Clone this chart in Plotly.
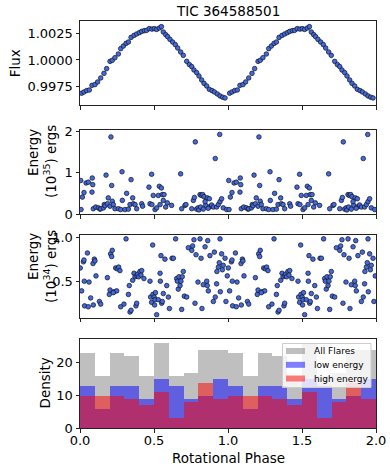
import numpy as np
import plotly.graph_objects as go

W, H = 390, 468
FONT = "DejaVu Sans"

# ---------------- data (one rotation; plotted again at phase + 1) ----------------
lc_phase = [0.011, 0.027, 0.045, 0.063, 0.081, 0.101, 0.119, 0.140, 0.162, 0.180,
            0.203, 0.218, 0.236, 0.259, 0.275, 0.293, 0.311, 0.327, 0.345, 0.365,
            0.383, 0.401, 0.417, 0.435, 0.450, 0.468, 0.486, 0.502, 0.518, 0.536,
            0.550, 0.563, 0.579, 0.592, 0.608, 0.626, 0.644, 0.660, 0.680, 0.698,
            0.721, 0.739, 0.755, 0.770, 0.788, 0.804, 0.822, 0.838, 0.856, 0.874,
            0.892, 0.908, 0.928, 0.946, 0.964, 0.980]
lc_flux = [0.99684, 0.99696, 0.99709, 0.99715, 0.99759, 0.99766, 0.99791, 0.99829, 0.99873, 0.99918,
           0.99987, 0.99997, 1.00022, 1.00057, 1.00108, 1.00133, 1.00158, 1.00171, 1.00215, 1.00234,
           1.00247, 1.00260, 1.00272, 1.00279, 1.00282, 1.00298, 1.00294, 1.00298, 1.00291, 1.00304,
           1.00317, 1.00266, 1.00241, 1.00222, 1.00196, 1.00171, 1.00146, 1.00114, 1.00076, 1.00044,
           0.99987, 0.99956, 0.99937, 0.99905, 0.99880, 0.99848, 0.99810, 0.99778, 0.99753, 0.99721,
           0.99709, 0.99696, 0.99677, 0.99658, 0.99646, 0.99639]

# high-energy flares (units of 1e35 erg)
hi_phase = [0.007, 0.005, 0.016, 0.027, 0.041, 0.056, 0.083, 0.086, 0.081, 0.090,
            0.106, 0.124, 0.135, 0.140, 0.158, 0.164, 0.169, 0.176, 0.185, 0.191,
            0.203, 0.209, 0.214, 0.218, 0.225, 0.236, 0.259, 0.275, 0.286, 0.284,
            0.304, 0.315, 0.327, 0.338, 0.345, 0.356, 0.360, 0.372, 0.383,
            0.417, 0.423, 0.466, 0.473, 0.484, 0.486, 0.495,
            0.507, 0.518, 0.529, 0.536, 0.541, 0.550, 0.556, 0.563, 0.568, 0.579, 0.590,
            0.619, 0.680, 0.687,
            0.709, 0.716, 0.755, 0.766, 0.773, 0.779, 0.788, 0.798,
            0.811, 0.820, 0.829, 0.838, 0.849, 0.860, 0.874, 0.878, 0.803, 0.815, 0.833, 0.845, 0.866, 0.889,
            0.901, 0.914, 0.923, 0.935, 0.944, 0.946, 0.957, 0.968, 0.991]
hi_energy = [0.11, 0.81, 0.41, 0.52, 0.75, 0.77, 0.87, 0.71, 0.53, 0.13,
             0.17, 0.15, 0.12, 0.13, 0.15, 0.23, 0.20, 0.94, 0.25, 0.39,
             0.19, 1.86, 0.69, 0.31, 0.23, 0.13, 0.13, 0.11, 0.33, 1.02,
             0.11, 0.50, 0.12, 0.23, 0.83, 0.39, 0.25, 0.23, 0.13,
             0.25, 0.19, 0.65, 0.25, 0.96, 0.23, 0.45,
             0.11, 0.15, 0.45, 0.67, 0.23, 0.63, 0.47, 0.33, 0.47, 0.17, 0.27,
             0.21, 0.97, 0.13,
             0.21, 0.23, 0.13, 0.33, 0.40, 1.74, 0.12, 0.15,
             0.47, 0.45, 0.47, 0.42, 0.21, 0.39, 0.37, 0.18, 0.10, 0.17, 0.12, 0.30, 0.14, 0.22,
             0.17, 1.34, 0.17, 0.23, 1.92, 0.30, 0.37, 0.15, 0.11]

# low-energy flares (units of 1e34 erg)
lo_phase = [0.002, 0.011, 0.023, 0.027, 0.029, 0.031, 0.050, 0.056, 0.061, 0.072, 0.090, 0.088, 0.097,
            0.101, 0.108, 0.131, 0.140, 0.185, 0.198,
            0.203, 0.207, 0.214, 0.218, 0.230, 0.241, 0.248, 0.252, 0.261, 0.270, 0.275, 0.297, 0.225,
            0.311, 0.327, 0.333, 0.338, 0.345, 0.356, 0.365, 0.372, 0.378, 0.383, 0.385, 0.390, 0.396,
            0.405, 0.412, 0.417, 0.432, 0.473, 0.477, 0.484, 0.491, 0.493,
            0.501, 0.504, 0.507, 0.510, 0.518, 0.529, 0.541, 0.543, 0.547, 0.552, 0.556, 0.563, 0.574, 0.586, 0.597,
            0.604, 0.622, 0.631, 0.646, 0.653, 0.658, 0.664, 0.669, 0.676, 0.682, 0.687, 0.691, 0.698,
            0.705, 0.721, 0.732, 0.755, 0.761, 0.770, 0.777, 0.784, 0.797,
            0.811, 0.818, 0.824, 0.833, 0.845, 0.856, 0.860, 0.863, 0.867, 0.878,
            0.901, 0.908, 0.914, 0.923, 0.925, 0.935, 0.941, 0.946, 0.948, 0.957, 0.962, 0.968, 0.980, 0.986, 0.995]
lo_energy = [0.65, 0.39, 0.72, 0.74, 0.50, 0.22, 0.82, 0.21, 0.49, 0.31, 0.23, 0.70, 0.75,
             0.73, 0.56, 0.27, 0.24, 0.54, 0.35,
             0.40, 0.81, 0.78, 0.85, 0.38, 0.65, 0.39, 0.64, 0.66, 0.62, 0.21, 0.24, 0.37,
             0.98, 0.35, 0.45, 0.15, 0.17, 0.51, 0.59, 0.55, 0.22, 0.25, 0.56, 0.58, 0.55,
             0.61, 0.57, 0.62, 0.53, 0.50, 0.32, 0.26, 0.91, 0.35,
             0.32, 0.23, 0.29, 0.37, 0.12, 0.29, 0.59, 0.50, 0.79, 0.25, 0.27, 0.36, 0.75, 0.45, 0.32,
             0.19, 0.76, 0.76, 0.98, 0.53, 0.50, 0.41, 0.55, 0.45, 0.50, 0.18, 0.55, 0.61,
             0.33, 0.32, 0.88, 0.85, 0.90, 0.97, 0.25, 0.80, 0.49,
             0.98, 0.76, 0.19, 0.46, 0.89, 0.50, 0.45, 0.96, 0.39, 0.79,
             0.27, 0.83, 0.32, 0.47, 0.61, 0.66, 0.71, 0.98, 0.38, 0.81, 0.63, 0.68, 0.76, 0.27, 0.56]

# histogram counts in 0.1-wide phase bins from 0 to 2
bin_left = [0.0, 0.1, 0.2, 0.3, 0.4, 0.5, 0.6, 0.7, 0.8, 0.9,
            1.0, 1.1, 1.2, 1.3, 1.4, 1.5, 1.6, 1.7, 1.8, 1.9]
all_counts = [23, 16, 23, 22, 16, 26, 16, 17, 24, 24, 23, 16, 23, 22, 16, 26, 16, 17, 24, 24]
low_counts = [13, 6, 13, 13, 9, 15, 13, 9, 10, 15, 13, 6, 13, 13, 9, 15, 13, 9, 10, 15]
high_counts = [10, 10, 10, 9, 7, 11, 3, 8, 14, 9, 10, 10, 10, 9, 7, 11, 3, 8, 14, 9]

title_text = "TIC 364588501"
legend_names = ["All Flares", "low energy", "high energy"]
hist_colors = ["rgba(128,128,128,0.5)", "rgba(0,0,255,0.5)", "rgba(255,0,0,0.5)"]

# ---------------- helpers ----------------
def two_cycles(ph, val):
    ph = list(ph)
    return ph + [p + 1.0 for p in ph], list(val) + list(val)

def px_x(x):
    return x / W

def px_y(y):
    return 1 - y / H

XDOM = [px_x(80), px_x(376)]
YDOMS = [
    [px_y(105.3), px_y(21.3)],
    [px_y(214.3), px_y(130.3)],
    [px_y(317.5), px_y(235.0)],
    [px_y(428.3), px_y(339.0)],
]

INK = "#000000"
axis_common = dict(
    showline=True, linecolor="#222222", linewidth=1, mirror=True,
    ticks="outside", ticklen=3.5, tickwidth=1, tickcolor="#222222",
    showgrid=False, zeroline=False, automargin=False,
    tickfont=dict(family=FONT, size=13, color=INK),
)

marker_style = dict(size=4.6, color="royalblue", line=dict(color="#111111", width=0.7))

fig = go.Figure()

x1, y1 = two_cycles(lc_phase, lc_flux)
fig.add_trace(go.Scatter(x=x1, y=y1, mode="markers", marker=marker_style,
                         xaxis="x", yaxis="y", showlegend=False))
x2, y2 = two_cycles(hi_phase, hi_energy)
fig.add_trace(go.Scatter(x=x2, y=y2, mode="markers", marker=marker_style,
                         xaxis="x2", yaxis="y2", showlegend=False))
x3, y3 = two_cycles(lo_phase, lo_energy)
fig.add_trace(go.Scatter(x=x3, y=y3, mode="markers", marker=marker_style,
                         xaxis="x3", yaxis="y3", showlegend=False))

centers = [b + 0.05 for b in bin_left]
for name, counts, col in zip(legend_names, [all_counts, low_counts, high_counts], hist_colors):
    fig.add_trace(go.Bar(x=centers, y=counts, width=0.1, name=name,
                         marker=dict(color=col, line=dict(width=0)),
                         xaxis="x4", yaxis="y4", showlegend=False))

layout = dict(
    width=W, height=H, margin=dict(l=0, r=0, t=0, b=0, autoexpand=False),
    paper_bgcolor="white", plot_bgcolor="white", template="none",
    barmode="overlay", bargap=0, showlegend=False,
    font=dict(family=FONT, size=13, color=INK),
)

xtick_vals = [0.0, 0.5, 1.0, 1.5, 2.0]
for i in range(4):
    sfx = "" if i == 0 else str(i + 1)
    layout["xaxis" + sfx] = dict(axis_common, domain=XDOM, anchor="y" + sfx, range=[0, 2],
                                 tickvals=xtick_vals, tickformat=".1f",
                                 showticklabels=(i == 3))
layout["xaxis4"]["ticklabelstandoff"] = -3
layout["yaxis"] = dict(axis_common, domain=YDOMS[0], anchor="x", range=[0.99569, 1.00368],
                       tickvals=[0.9975, 1.0, 1.0025], tickformat=".4f")
layout["yaxis2"] = dict(axis_common, domain=YDOMS[1], anchor="x2", range=[-0.005, 2.02],
                        tickvals=[0, 1, 2], tickformat="d")
layout["yaxis3"] = dict(axis_common, domain=YDOMS[2], anchor="x3", range=[0.088, 1.024],
                        tickvals=[0.5, 1.0], tickformat=".1f")
layout["yaxis4"] = dict(axis_common, domain=YDOMS[3], anchor="x4", range=[0, 27.3],
                        tickvals=[0, 10, 20], tickformat="d")
fig.update_layout(**layout)

ann = []
def add_text(text, x, y, size=13.5, angle=0, xanchor="center", yanchor="middle"):
    ann.append(dict(text=text, x=px_x(x), y=px_y(y), xref="paper", yref="paper",
                    showarrow=False, textangle=angle, xanchor=xanchor, yanchor=yanchor,
                    font=dict(family=FONT, size=size, color=INK)))

add_text(title_text, 228, 11, size=13.5)
add_text("Flux", 15, 63.3, angle=-90)
add_text("Energy", 33, 153, angle=-90)
add_text("(10<sup>35</sup>) ergs", 50, 161, angle=-90)
add_text("Energy", 33, 257, angle=-90)
add_text("(10<sup>34</sup>) ergs", 50, 266, angle=-90)
add_text("Density", 44, 383.5, angle=-90)
add_text("Rotational Phase", 228, 458)

# legend (drawn to match matplotlib look)
shapes = [dict(type="rect", xref="paper", yref="paper",
               x0=px_x(282.5), x1=px_x(371), y0=px_y(387.5), y1=px_y(343.5),
               fillcolor="rgba(255,255,255,0.8)", line=dict(color="#cccccc", width=1),
               layer="above")]
leg_y = [351, 364.8, 378.5]
for name, col, ly in zip(legend_names, hist_colors, leg_y):
    shapes.append(dict(type="rect", xref="paper", yref="paper",
                       x0=px_x(286), x1=px_x(305), y0=px_y(ly + 3), y1=px_y(ly - 3),
                       fillcolor=col, line=dict(width=0), layer="above"))
    add_text(name, 312, ly, size=9, xanchor="left")

fig.update_layout(annotations=ann, shapes=shapes)

fig.write_html("out.html", config={"displayModeBar": False},
               post_script="document.body.style.margin='0';")
